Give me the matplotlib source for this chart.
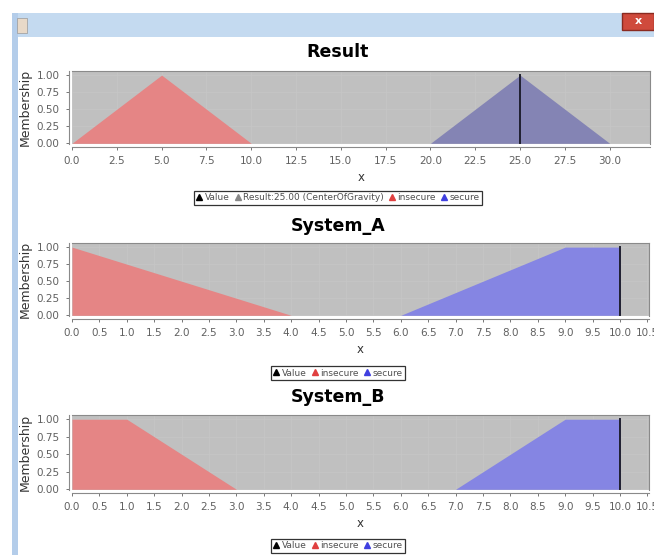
import numpy as np
import matplotlib
matplotlib.use("Agg")
import matplotlib.pyplot as plt
from matplotlib.lines import Line2D
from matplotlib.patches import Rectangle

# membership functions (x, y)
res_insecure_x = [0.0, 5.0, 10.0]
res_insecure_y = [0.0, 1.0, 0.0]
res_secure_x = [20.0, 25.0, 30.0]
res_secure_y = [0.0, 1.0, 0.0]
res_value = 25.0

a_insecure_x = [0.0, 4.0]
a_insecure_y = [1.0, 0.0]
a_secure_x = [6.0, 9.0, 10.0]
a_secure_y = [0.0, 1.0, 1.0]
a_value = 10.0

b_insecure_x = [0.0, 1.0, 3.0]
b_insecure_y = [1.0, 1.0, 0.0]
b_secure_x = [7.0, 9.0, 10.0]
b_secure_y = [0.0, 1.0, 1.0]
b_value = 10.0

res_ticks = np.arange(0, 30.01, 2.5)
sys_ticks = np.arange(0, 10.51, 0.5)
y_ticks = [0.0, 0.25, 0.5, 0.75, 1.0]

red = "#e58585"
blue_sys = "#8585e3"
blue_res = "#8484b4"
bg = "#c0c0c0"

W, H = 654, 555
fig = plt.figure(figsize=(W / 100, H / 100), dpi=100)
fig.patch.set_facecolor("white")

def px(x0, y0, x1, y1):
    return [x0 / W, 1 - y1 / H, (x1 - x0) / W, (y1 - y0) / H]

# window chrome
fig.patches.append(Rectangle((12 / W, 1 - 37 / H), 1, 24 / H, transform=fig.transFigure,
                             facecolor="#c4daf0", edgecolor="none", zorder=-5))
fig.patches.append(Rectangle((12 / W, 0), 6 / W, 1 - 13 / H, transform=fig.transFigure,
                             facecolor="#b4cdea", edgecolor="none", zorder=-5))
fig.patches.append(Rectangle((622 / W, 1 - 30 / H), 32 / W, 17 / H, transform=fig.transFigure,
                             facecolor="#cf4a3c", edgecolor="#8a2a20", zorder=-4))
fig.patches.append(Rectangle((17 / W, 1 - 33 / H), 10 / W, 15 / H, transform=fig.transFigure,
                             facecolor="#e8d9c8", edgecolor="#999999", lw=0.5, zorder=-4))
fig.text(638 / W, 1 - 21 / H, "x", color="white", fontsize=8, fontweight="bold",
         ha="center", va="center")


def panel(rect, title, title_y, xs, xlim, series, value, legend_labels, legend_y, legend_colors):
    ax = fig.add_axes(px(*rect))
    ax.set_facecolor(bg)
    for x, y, c in series:
        ax.fill_between(x, y, 0, color=c, lw=0, zorder=2)
    ax.plot([value, value], [0, 1], color="#202030", lw=1.4, zorder=3)
    ax.set_xlim(*xlim)
    ax.set_ylim(-0.01, 1.06)
    ax.set_xticks(xs)
    ax.set_xticklabels(["%.1f" % v for v in xs])
    ax.set_yticks(y_ticks)
    ax.set_yticklabels(["%.2f" % v for v in y_ticks])
    ax.grid(True, color="#c6c6c6", lw=0.5, zorder=1)
    ax.tick_params(labelsize=7.5, colors="#606060", length=2, width=0.6, pad=5)
    for s in ["top", "right"]:
        ax.spines[s].set_color("#8a8a8a")
    for s in ["left", "bottom"]:
        ax.spines[s].set_color("#8a8a8a")
        ax.spines[s].set_position(("outward", 2))
    ax.set_ylabel("Membership", fontsize=9, color="#333333", labelpad=3)
    ax.set_xlabel("x", fontsize=8.5, color="#333333", labelpad=3)
    fig.text(338 / W, 1 - title_y / H, title, ha="center", va="center", fontsize=12.5,
             fontweight="bold", family=["Liberation Sans Narrow", "DejaVu Sans"])
    handles = [Line2D([], [], ls="none", marker="^", markersize=4, color=c) for c in legend_colors]
    leg = fig.legend(handles, legend_labels, loc="center", bbox_to_anchor=(338 / W, 1 - legend_y / H),
                     ncol=len(legend_labels), fontsize=6.5, frameon=True, fancybox=False,
                     handlelength=0.6, handletextpad=0.3, columnspacing=0.6, borderpad=0.3,
                     borderaxespad=0)
    leg.get_frame().set_edgecolor("black")
    leg.get_frame().set_linewidth(0.9)
    for t in leg.get_texts():
        t.set_color("#505050")
    return ax


panel((72, 71, 650, 144), "Result", 52, res_ticks, (0, 32.25),
      [(res_insecure_x, res_insecure_y, red), (res_secure_x, res_secure_y, blue_res)],
      res_value, ["Value", "Result:25.00 (CenterOfGravity)", "insecure", "secure"], 198,
      ["black", "#888888", "#e04040", "#4040e0"])

panel((72, 243, 649, 316), "System_A", 226, sys_ticks, (0, 10.53),
      [(a_insecure_x, a_insecure_y, red), (a_secure_x, a_secure_y, blue_sys)],
      a_value, ["Value", "insecure", "secure"], 373,
      ["black", "#e04040", "#4040e0"])

panel((72, 415, 649, 490), "System_B", 397, sys_ticks, (0, 10.53),
      [(b_insecure_x, b_insecure_y, red), (b_secure_x, b_secure_y, blue_sys)],
      b_value, ["Value", "insecure", "secure"], 546,
      ["black", "#e04040", "#4040e0"])

fig.savefig("out.png", dpi=100)
